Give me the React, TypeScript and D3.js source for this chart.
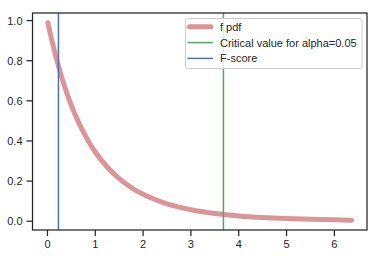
import React from "react";
import * as d3 from "d3";

const pdfX = [0.01, 0.1, 0.2, 0.3, 0.4, 0.5, 0.6, 0.75, 0.9, 1.0, 1.25, 1.5, 1.75, 2.0, 2.25, 2.5, 2.75, 3.0, 3.5, 4.0, 4.5, 5.0, 5.5, 6.0, 6.36];
const pdfY = [0.989, 0.894, 0.8, 0.716, 0.642, 0.578, 0.52, 0.445, 0.381, 0.345, 0.27, 0.212, 0.168, 0.134, 0.108, 0.0867, 0.0705, 0.0573, 0.0386, 0.0264, 0.0184, 0.013, 0.0093, 0.0068, 0.0054];
const criticalValue = 3.68;
const fScore = 0.23;
const xTicks = [0, 1, 2, 3, 4, 5, 6];
const yTicks = [0.0, 0.2, 0.4, 0.6, 0.8, 1.0];
const legendLabels = ["f pdf", "Critical value for alpha=0.05", "F-score"];

export default function App() {
  const W = 380, H = 257;
  const left = 32.5, right = 367, top = 13, bottom = 230;
  const x = d3.scaleLinear().domain([-0.3125, 6.6825]).range([left, right]);
  const y = d3.scaleLinear().domain([-0.0438, 1.0378]).range([bottom, top]);
  const pts = pdfX.map((v, i) => [v, pdfY[i]] as [number, number]);
  const line = d3.line<[number, number]>().x(d => x(d[0])).y(d => y(d[1])).curve(d3.curveMonotoneX);
  const font = "'Liberation Sans', Arial, sans-serif";
  const ink = "#262626";
  const legendColors = ["#c44e52", "#55a868", "#4c72b0"];
  return (
    <svg width={W} height={H} style={{ position: "absolute", left: 0, top: 0 }} fontFamily={font}>
      <rect x={0} y={0} width={W} height={H} fill="#fff" />
      <defs>
        <clipPath id="plot"><rect x={left} y={top} width={right - left} height={bottom - top} /></clipPath>
      </defs>
      <g clipPath="url(#plot)">
        <path d={line(pts) || ""} fill="none" stroke="#c44e52" strokeOpacity={0.6} strokeWidth={5} strokeLinecap="round" />
        <line x1={x(criticalValue)} x2={x(criticalValue)} y1={top} y2={bottom} stroke="#55a868" strokeWidth={1.5} />
        <line x1={x(fScore)} x2={x(fScore)} y1={top} y2={bottom} stroke="#4c72b0" strokeWidth={1.5} />
      </g>
      <rect x={left} y={top} width={right - left} height={bottom - top} fill="none" stroke={ink} strokeWidth={1.25} />
      {xTicks.map(t => (
        <g key={"x" + t}>
          <line x1={x(t)} x2={x(t)} y1={bottom} y2={bottom + 6} stroke={ink} strokeWidth={1.25} />
          <text x={x(t)} y={bottom + 17.7} textAnchor="middle" fontSize={11} fill={ink}>{t}</text>
        </g>
      ))}
      {yTicks.map(t => (
        <g key={"y" + t}>
          <line x1={left - 6} x2={left} y1={y(t)} y2={y(t)} stroke={ink} strokeWidth={1.25} />
          <text x={left - 10} y={y(t) + 4} textAnchor="end" fontSize={11} fill={ink}>{t.toFixed(1)}</text>
        </g>
      ))}
      <g>
        <rect x={185.5} y={18.5} width={176.5} height={50} rx={2} fill="#fff" fillOpacity={0.8} stroke="#cccccc" strokeWidth={1} />
        {legendLabels.map((lab, i) => {
          const ly = 26.8 + i * 15.8;
          return (
            <g key={lab}>
              <line x1={i === 0 ? 189.5 : 187.5} x2={i === 0 ? 211 : 213} y1={ly} y2={ly} stroke={legendColors[i]} strokeOpacity={i === 0 ? 0.6 : 1} strokeWidth={i === 0 ? 5 : 1.5} strokeLinecap={i === 0 ? "round" : "butt"} />
              <text x={220} y={ly + 4} fontSize={11} fill={ink}>{lab}</text>
            </g>
          );
        })}
      </g>
    </svg>
  );
}
